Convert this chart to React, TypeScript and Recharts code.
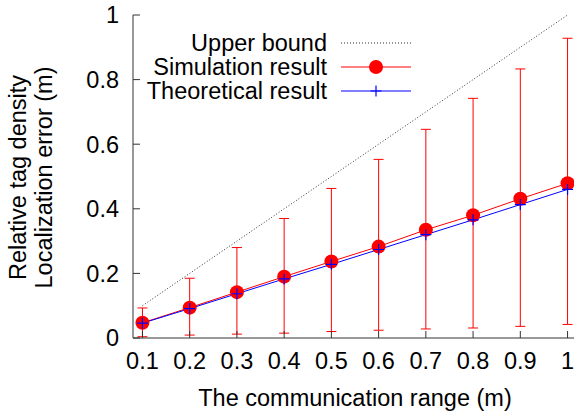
import React from 'react';
import { ComposedChart, Line, XAxis, YAxis, ErrorBar, Legend, Label } from 'recharts';

const ranges = [0.1, 0.2, 0.3, 0.4, 0.5, 0.6, 0.7, 0.8, 0.9, 1.0];
const upperBound = [0.1, 0.2, 0.3, 0.4, 0.5, 0.6, 0.7, 0.8, 0.9, 1.0];
const simulation = [0.047, 0.094, 0.142, 0.19, 0.237, 0.283, 0.335, 0.38, 0.431, 0.479];
const simLower = [0.004, 0.009, 0.012, 0.015, 0.02, 0.024, 0.028, 0.031, 0.036, 0.042];
const simUpper = [0.093, 0.185, 0.28, 0.37, 0.463, 0.553, 0.646, 0.742, 0.833, 0.928];
const theoretical = [0.046, 0.091, 0.137, 0.183, 0.228, 0.274, 0.32, 0.366, 0.413, 0.46];
const xTicks = [0.1, 0.2, 0.3, 0.4, 0.5, 0.6, 0.7, 0.8, 0.9, 1];
const yTicks = [0, 0.2, 0.4, 0.6, 0.8, 1];
const seriesNames = ['Upper bound', 'Simulation result', 'Theoretical result'];
const xTitle = 'The communication range (m)';
const yTitleLines = ['Relative tag density', 'Localization error (m)'];

const FONT = '"Liberation Sans", Arial, Helvetica, sans-serif';
const FS = 23.5;

const data = ranges.map((r, i) => ({
  range: r,
  upper: upperBound[i],
  sim: simulation[i],
  simErr: [simulation[i] - simLower[i], simUpper[i] - simulation[i]],
  theo: theoretical[i],
}));

const RedDot = (p: any) => {
  if (p.cx == null || p.cy == null) return <g key={p.index} />;
  return <circle key={p.index} cx={p.cx} cy={p.cy} r={7} fill="#ff0000" stroke="none" />;
};

const PlusDot = (p: any) => {
  if (p.cx == null || p.cy == null) return <g key={p.index} />;
  const s = 5.5;
  return (
    <path
      key={p.index}
      d={`M${p.cx - s},${p.cy}H${p.cx + s}M${p.cx},${p.cy - s}V${p.cy + s}`}
      stroke="#0000ff"
      strokeWidth={1.2}
      fill="none"
    />
  );
};

const LegendContent = () => {
  const textRight = 327;
  const x1 = 341;
  const x2 = 411;
  const mx = 376;
  const rows = [43, 67, 91];
  return (
    <svg width={574} height={120} style={{ display: 'block' }}>
      {seriesNames.map((name, i) => (
        <text
          key={'t' + i}
          x={textRight}
          y={rows[i]}
          dy="0.35em"
          textAnchor="end"
          fontSize={FS}
          fontFamily={FONT}
          fill="#000"
        >
          {name}
        </text>
      ))}
      <line x1={x1} x2={x2} y1={rows[0]} y2={rows[0]} stroke="#333" strokeWidth={1} strokeDasharray="1 2" />
      <line x1={x1} x2={x2} y1={rows[1]} y2={rows[1]} stroke="#ff0000" strokeWidth={1} />
      <circle cx={mx} cy={rows[1]} r={7} fill="#ff0000" />
      <line x1={x1} x2={x2} y1={rows[2]} y2={rows[2]} stroke="#0000ff" strokeWidth={1} />
      <path d={`M${mx - 5.5},${rows[2]}H${mx + 5.5}M${mx},${rows[2] - 5.5}V${rows[2] + 5.5}`} stroke="#0000ff" strokeWidth={1.2} />
    </svg>
  );
};

const YTitle = (props: any) => {
  const vb = props.viewBox || { x: 0, y: 15, width: 133, height: 323 };
  const cy = vb.y + vb.height / 2 + 1;
  const xs = [26, 52];
  return (
    <g>
      {yTitleLines.map((t, i) => (
        <text
          key={i}
          x={xs[i]}
          y={cy}
          transform={`rotate(-90, ${xs[i]}, ${cy})`}
          textAnchor="middle"
          fontSize={FS}
          fontFamily={FONT}
          fill="#000"
        >
          {t}
        </text>
      ))}
    </g>
  );
};

const XTitle = (props: any) => {
  const vb = props.viewBox || { x: 133, y: 338, width: 444, height: 75 };
  return (
    <text
      x={vb.x + vb.width / 2}
      y={vb.y + 68}
      textAnchor="middle"
      fontSize={FS}
      fontFamily={FONT}
      fill="#000"
    >
      {xTitle}
    </text>
  );
};

export default function App() {
  const axisStroke = '#333';
  const tickStyle = { fontSize: FS, fill: '#000', fontFamily: FONT };
  return (
    <div style={{ position: 'absolute', left: 0, top: 0, width: 574, height: 413, background: '#fff' }}>
      <ComposedChart
        width={574}
        height={413}
        data={data}
        margin={{ top: 15, right: -3, bottom: 0, left: 0 }}
        style={{ fontFamily: FONT }}
      >
        <XAxis
          dataKey="range"
          type="number"
          domain={[0.08, 1.02]}
          ticks={xTicks}
          tickFormatter={(v: number) => String(v)}
          height={75}
          tickSize={-7}
          tickMargin={21}
          stroke={axisStroke}
          tick={tickStyle}
          tickLine={{ stroke: axisStroke }}
          axisLine={{ stroke: axisStroke }}
          allowDataOverflow
        >
          <Label content={XTitle} />
        </XAxis>
        <XAxis
          xAxisId="top"
          dataKey="range"
          type="number"
          orientation="top"
          domain={[0.08, 1.02]}
          ticks={xTicks}
          tickFormatter={() => ''}
          height={0}
          tickSize={-7}
          stroke={axisStroke}
          tickLine={{ stroke: axisStroke }}
          axisLine={{ stroke: axisStroke }}
          allowDataOverflow
        />
        <YAxis
          type="number"
          domain={[0, 1]}
          ticks={yTicks}
          tickFormatter={(v: number) => String(v)}
          width={133}
          tickSize={-7}
          tickMargin={21}
          stroke={axisStroke}
          tick={tickStyle}
          tickLine={{ stroke: axisStroke }}
          axisLine={{ stroke: axisStroke }}
          allowDataOverflow
        >
          <Label content={YTitle} />
        </YAxis>
        <YAxis
          yAxisId="right"
          orientation="right"
          type="number"
          domain={[0, 1]}
          ticks={yTicks}
          tickFormatter={() => ''}
          width={0}
          tickSize={-7}
          stroke={axisStroke}
          tickLine={{ stroke: axisStroke }}
          axisLine={{ stroke: axisStroke }}
          allowDataOverflow
        />
        <Legend
          layout="vertical"
          align="center"
          verticalAlign="middle"
          content={LegendContent}
          wrapperStyle={{ position: 'absolute', left: 0, top: 0, width: 574, height: 120 }}
        />
        <Line
          dataKey="upper"
          name={seriesNames[0]}
          stroke="#333"
          strokeWidth={1}
          strokeDasharray="1 2"
          dot={false}
          activeDot={false}
          isAnimationActive={false}
        />
        <Line
          dataKey="sim"
          name={seriesNames[1]}
          stroke="#ff0000"
          strokeWidth={1}
          dot={RedDot}
          activeDot={false}
          isAnimationActive={false}
        >
          <ErrorBar dataKey="simErr" width={5} stroke="#ff0000" strokeWidth={1} direction="y" isAnimationActive={false} />
        </Line>
        <Line
          dataKey="theo"
          name={seriesNames[2]}
          stroke="#0000ff"
          strokeWidth={1}
          dot={PlusDot}
          activeDot={false}
          isAnimationActive={false}
        />
      </ComposedChart>
    </div>
  );
}
